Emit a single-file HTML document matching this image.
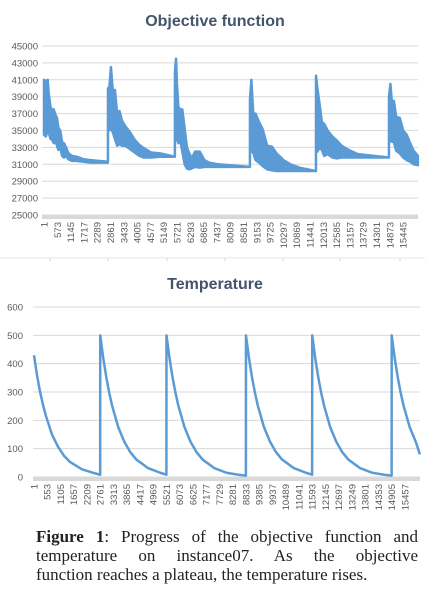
<!DOCTYPE html>
<html><head><meta charset="utf-8">
<style>
body{margin:0;background:#fff;width:448px;height:608px;overflow:hidden;font-family:"Liberation Sans",sans-serif;}
svg{position:absolute;left:0;top:0}
#cap{position:absolute;left:36px;top:527px;width:382px;font-family:"Liberation Serif",serif;font-size:17px;line-height:19px;color:#222;}
#cap div{white-space:nowrap;text-align:justify;text-align-last:justify;width:382px;}
#cap div.last{text-align-last:left;}
</style></head><body>
<svg id="s" width="448" height="525"></svg>
<div id="cap"><div><b>Figure 1</b>: Progress of the objective function and</div><div>temperature on instance07. As the objective</div><div class="last">function reaches a plateau, the temperature rises.</div></div>
<script>
// Objective function envelope
const objX   =[1,80,160,200,280,330,420,500,560,620,700,780,860,950,1050,1200,1400,1700,2000,2750,2753,2800,2880,2960,3050,3150,3250,3350,3500,3700,3900,4100,4300,4600,5000,5630,5634,5680,5720,5780,5850,5950,6050,6150,6250,6350,6500,6700,6900,7100,7500,8858,8860,8920,9000,9100,9250,9400,9600,9800,10000,10300,10600,11000,11698,11700,11760,11860,11950,12050,12200,12400,12600,12800,13100,13500,14837,14839,14900,14960,15050,15150,15300,15450,15600,15750,15900,16080];
const objMax =[41000,40800,41000,39500,37800,37500,37500,36800,36500,35300,35000,33600,33500,33000,32300,32000,31900,31600,31500,31300,40000,39700,42500,39700,39800,37000,37300,36200,35500,34800,33900,33300,32900,32400,32300,31900,42000,43500,40500,37800,37500,37500,35200,33000,32300,31700,32500,32500,31500,31200,31000,30700,38700,41000,37000,37000,36000,35200,33200,33100,32300,31500,31000,30600,30200,41500,40000,38000,36000,35800,35000,34300,33800,33200,32700,32200,31800,39000,40500,38500,38500,36600,36500,35000,34500,33500,32600,32000];
const objMin =[34500,34300,35000,34800,34000,34000,33500,33700,33200,32700,33000,32000,31800,32000,31600,31400,31400,31300,31200,31200,35000,35000,35200,34800,34000,33200,33400,33200,33200,32800,32400,32000,31800,31800,31900,31900,35000,35200,34000,33500,34000,32500,31000,30500,30400,30500,30700,30600,30700,30700,30700,30700,32500,32500,32400,31500,31200,30800,30400,30300,30200,30200,30200,30200,30200,33000,32500,33000,32700,32000,32200,31800,31700,31800,31800,31800,31800,33500,34000,33700,33600,32600,32300,31800,31500,31300,31000,30900];
const objTicks=[1,573,1145,1717,2289,2861,3433,4005,4577,5149,5721,6293,6865,7437,8009,8581,9153,9725,10297,10869,11441,12013,12585,13157,13729,14301,14873,15445];
const objYTicks=[25000,27000,29000,31000,33000,35000,37000,39000,41000,43000,45000];
// Temperature
const tX=[1,125,250,375,500,750,1000,1250,1500,2000,2500,2758,
 2761,2886,3011,3136,3261,3511,3761,4011,4261,4761,5261,5518,
 5521,5646,5771,5896,6021,6271,6521,6771,7021,7521,8021,8521,8830,
 8833,8958,9083,9208,9333,9583,9833,10083,10333,10833,11333,11590,
 11593,11718,11843,11968,12093,12343,12593,12843,13093,13593,14093,14593,14902,
 14905,15030,15155,15280,15405,15655,15905,16080];
const tY=[430,360,302,255,215,150,107,75,53,27,14,8,
 500,420,353,297,250,176,125,88,62,31,15,8,
 500,420,353,297,250,176,125,88,62,31,15,8,5,
 500,420,353,297,250,176,125,88,62,31,15,8,
 500,420,353,297,250,176,125,88,62,31,15,8,5,
 500,420,353,297,250,176,125,80];
const tTicks=[1,553,1105,1657,2209,2761,3313,3865,4417,4969,5521,6073,6625,7177,7729,8281,8833,9385,9937,10489,11041,11593,12145,12697,13249,13801,14353,14905,15457];
const tYTicks=[0,100,200,300,400,500,600];

const NS="http://www.w3.org/2000/svg",S=document.getElementById('s');
function el(t,a,txt){const e=document.createElementNS(NS,t);for(const k in a)e.setAttribute(k,a[k]);if(txt!=null)e.textContent=txt;S.appendChild(e);return e;}
const BLUE="#5b9bd5",GRID="#d9d9d9",LBL="#595959",TTL="#44546a";

// Chart 1
const x1=v=>44+(v-1)*0.02325, y1=v=>215-(v-25000)*(169/20000);
let t=el('text',{x:215,y:26,'text-anchor':'middle','font-size':16,'font-weight':'bold',fill:TTL},'Objective function');

objYTicks.forEach(v=>{
 let g=el('line',{x1:42,x2:418,y1:y1(v),y2:y1(v),stroke:GRID,'stroke-width':1});
 
 let l=el('text',{x:38,y:y1(v)+3.5,'text-anchor':'end','font-size':9.5,fill:LBL},v);
 
});
let ax=el('line',{x1:42,x2:418,y1:217,y2:217,stroke:GRID,'stroke-width':4});

objTicks.forEach(v=>{
 let l=el('text',{transform:`translate(${x1(v)+3.5},222) rotate(-90)`,'text-anchor':'end','font-size':9.5,fill:LBL},v);
 
});
let pts=objX.map((x,i)=>x1(x)+','+y1(objMax[i])).concat(objX.map((x,i)=>x1(x)+','+y1(objMin[i])).reverse());
let band=el('polygon',{points:pts.join(' '),fill:BLUE,stroke:BLUE,'stroke-width':2.5,'stroke-linejoin':'round'});

let sep=el('line',{x1:0,x2:425,y1:258,y2:258,stroke:"#e3e7ee",'stroke-width':1});

[50,108,167,225,283,340,400].forEach(x=>{let k=el('line',{x1:x,x2:x,y1:258,y2:261,stroke:"#d0d5dd"});});

// Chart 2
const x2=v=>34+(v-1)*0.024, y2=v=>477-v*(170/600);
t=el('text',{x:215,y:289,'text-anchor':'middle','font-size':16,'font-weight':'bold',fill:TTL},'Temperature');

tYTicks.forEach(v=>{
 let g=el('line',{x1:33,x2:420,y1:y2(v),y2:y2(v),stroke:GRID,'stroke-width':1});
 
 let l=el('text',{x:23,y:y2(v)+3.5,'text-anchor':'end','font-size':9.5,fill:LBL},v);
 
});
ax=el('line',{x1:33,x2:420,y1:479,y2:479,stroke:GRID,'stroke-width':4});

tTicks.forEach(v=>{
 let l=el('text',{transform:`translate(${x2(v)+3.5},484) rotate(-90)`,'text-anchor':'end','font-size':9.5,fill:LBL},v);
 
});
let tl=el('polyline',{points:tX.map((x,i)=>x2(x)+','+y2(tY[i])).join(' '),fill:'none',stroke:BLUE,'stroke-width':2.5,'stroke-linejoin':'round'});

</script>
</body></html>
